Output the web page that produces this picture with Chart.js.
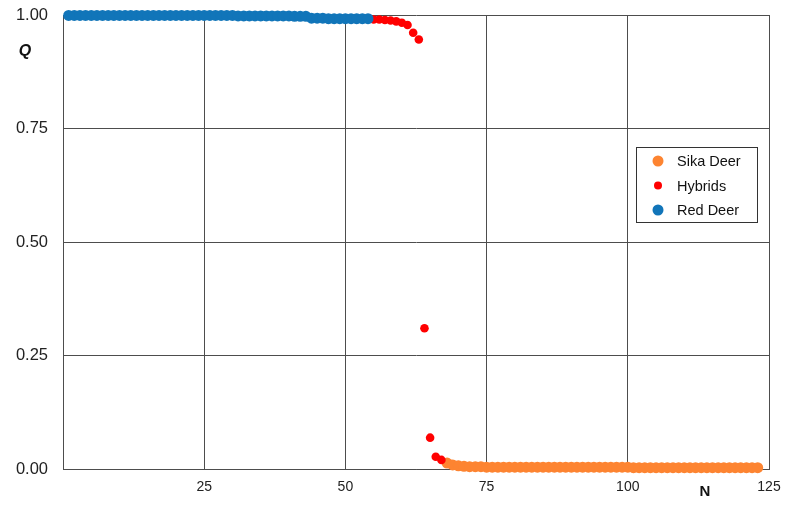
<!DOCTYPE html>
<html>
<head>
<meta charset="utf-8">
<script src="https://cdn.jsdelivr.net/npm/chart.js@4"></script>
<style>
    html, body { margin: 0; padding: 0; background: #fff; }
    #wrap { width: 794px; height: 505px; }
</style>
</head>
<body>
<div id="wrap"><canvas id="qChart"></canvas></div>
<script>
// Q values, ranked individuals; N starts at the given number for each group
const redDeerStart = 1;
const redDeerQ = [
    0.999, 0.999, 0.999, 0.999, 0.999, 0.999, 0.999, 0.999, 0.999, 0.999,
    0.999, 0.999, 0.999, 0.999, 0.999, 0.999, 0.999, 0.999, 0.999, 0.999,
    0.999, 0.999, 0.999, 0.999, 0.999, 0.999, 0.999, 0.999, 0.999, 0.999,
    0.998, 0.998, 0.998, 0.998, 0.998, 0.998, 0.998, 0.998, 0.998, 0.998,
    0.997, 0.997, 0.997, 0.993, 0.993, 0.993, 0.992, 0.992, 0.992, 0.992,
    0.992, 0.992, 0.992, 0.992
];
const hybridStart = 55;
const hybridQ = [0.990, 0.990, 0.989, 0.988, 0.986, 0.983, 0.978, 0.961, 0.946, 0.310, 0.069, 0.027, 0.020];
const sikaStart = 68;
const sikaQ = [
    0.013, 0.009, 0.007, 0.006, 0.005, 0.005, 0.005,
    0.004, 0.004, 0.004, 0.004, 0.004, 0.004, 0.004, 0.004, 0.004, 0.004,
    0.004, 0.004, 0.004, 0.004, 0.004, 0.004, 0.004, 0.004, 0.004, 0.004,
    0.004, 0.004, 0.004, 0.004, 0.004, 0.004,
    0.003, 0.003, 0.003, 0.003, 0.003, 0.003, 0.003, 0.003, 0.003, 0.003,
    0.003, 0.003, 0.003, 0.003, 0.003, 0.003, 0.003, 0.003, 0.003, 0.003,
    0.003, 0.003, 0.003
];
const xTicks = [25, 50, 75, 100, 125];
const yTicks = [0, 0.25, 0.5, 0.75, 1];

const toPoints = (start, vals) => vals.map((q, i) => ({ x: start + i, y: q }));

const gridCol = '#4d4d4d';
const axisFont = "'Liberation Sans', Arial, sans-serif";

// legend box + axis titles drawn on the canvas
const extras = {
    id: 'extras',
    afterDraw(chart) {
        const c = chart.ctx;
        c.save();
        // legend
        c.fillStyle = '#fff';
        c.fillRect(636, 147, 121, 75);
        c.strokeStyle = '#333';
        c.lineWidth = 1;
        c.strokeRect(636.5, 147.5, 121, 75);
        const items = [
            { label: 'Sika Deer', color: '#fd8431', r: 5.5 },
            { label: 'Hybrids', color: '#ff0000', r: 4 },
            { label: 'Red Deer', color: '#1175b9', r: 5.5 }
        ];
        c.font = "14.5px " + axisFont;
        c.textBaseline = 'middle';
        items.forEach((it, i) => {
            const y = 161 + i * 24.5;
            c.fillStyle = it.color;
            c.beginPath();
            c.arc(658, y, it.r, 0, Math.PI * 2);
            c.fill();
            c.fillStyle = '#111';
            c.fillText(it.label, 677, y + 1);
        });
        // axis titles
        c.fillStyle = '#111';
        c.font = "bold italic 16px " + axisFont;
        c.textAlign = 'center';
        c.fillText('Q', 25, 52);
        c.font = "bold 15px 'Liberation Sans Narrow', " + axisFont;
        c.fillText('N', 705, 492);
        c.restore();
    }
};

new Chart(document.getElementById('qChart'), {
    type: 'scatter',
    data: {
        datasets: [
            {
                label: 'Red Deer',
                data: toPoints(redDeerStart, redDeerQ),
                backgroundColor: '#1175b9',
                borderWidth: 0,
                pointRadius: 5.5,
                clip: false,
                order: 0
            },
            {
                label: 'Hybrids',
                data: toPoints(hybridStart, hybridQ),
                backgroundColor: '#ff0000',
                borderWidth: 0,
                pointRadius: 4.3,
                clip: false,
                order: 1
            },
            {
                label: 'Sika Deer',
                data: toPoints(sikaStart, sikaQ),
                backgroundColor: '#fd8431',
                borderWidth: 0,
                pointRadius: 5.5,
                clip: false,
                order: 2
            }
        ]
    },
    options: {
        responsive: true,
        maintainAspectRatio: false,
        animation: false,
        layout: { padding: { top: 15, right: 25, left: 0, bottom: 0 } },
        plugins: {
            legend: { display: false },
            tooltip: { enabled: false }
        },
        scales: {
            x: {
                type: 'linear',
                min: 0,
                max: 125,
                afterBuildTicks: s => { s.ticks = [0].concat(xTicks).map(v => ({ value: v })); },
                afterFit: s => { s.height = 36; s.paddingLeft = 0; s.paddingRight = 0; },
                grid: { color: gridCol, lineWidth: 1, drawTicks: false },
                border: { color: gridCol },
                ticks: {
                    padding: 10,
                    color: '#222',
                    font: { family: "'Liberation Sans Narrow', 'Liberation Sans', Arial", size: 14 },
                    callback: v => (v === 0 ? '' : v)
                }
            },
            y: {
                min: 0,
                max: 1,
                afterBuildTicks: s => { s.ticks = yTicks.map(v => ({ value: v })); },
                afterFit: s => { s.width = 63; s.paddingTop = 0; s.paddingBottom = 0; },
                grid: { color: gridCol, lineWidth: 1, drawTicks: false },
                border: { color: gridCol },
                ticks: {
                    padding: 15,
                    color: '#222',
                    font: { family: axisFont, size: 16.5 },
                    callback: v => v.toFixed(2)
                }
            }
        }
    },
    plugins: [extras]
});
</script>
</body>
</html>
